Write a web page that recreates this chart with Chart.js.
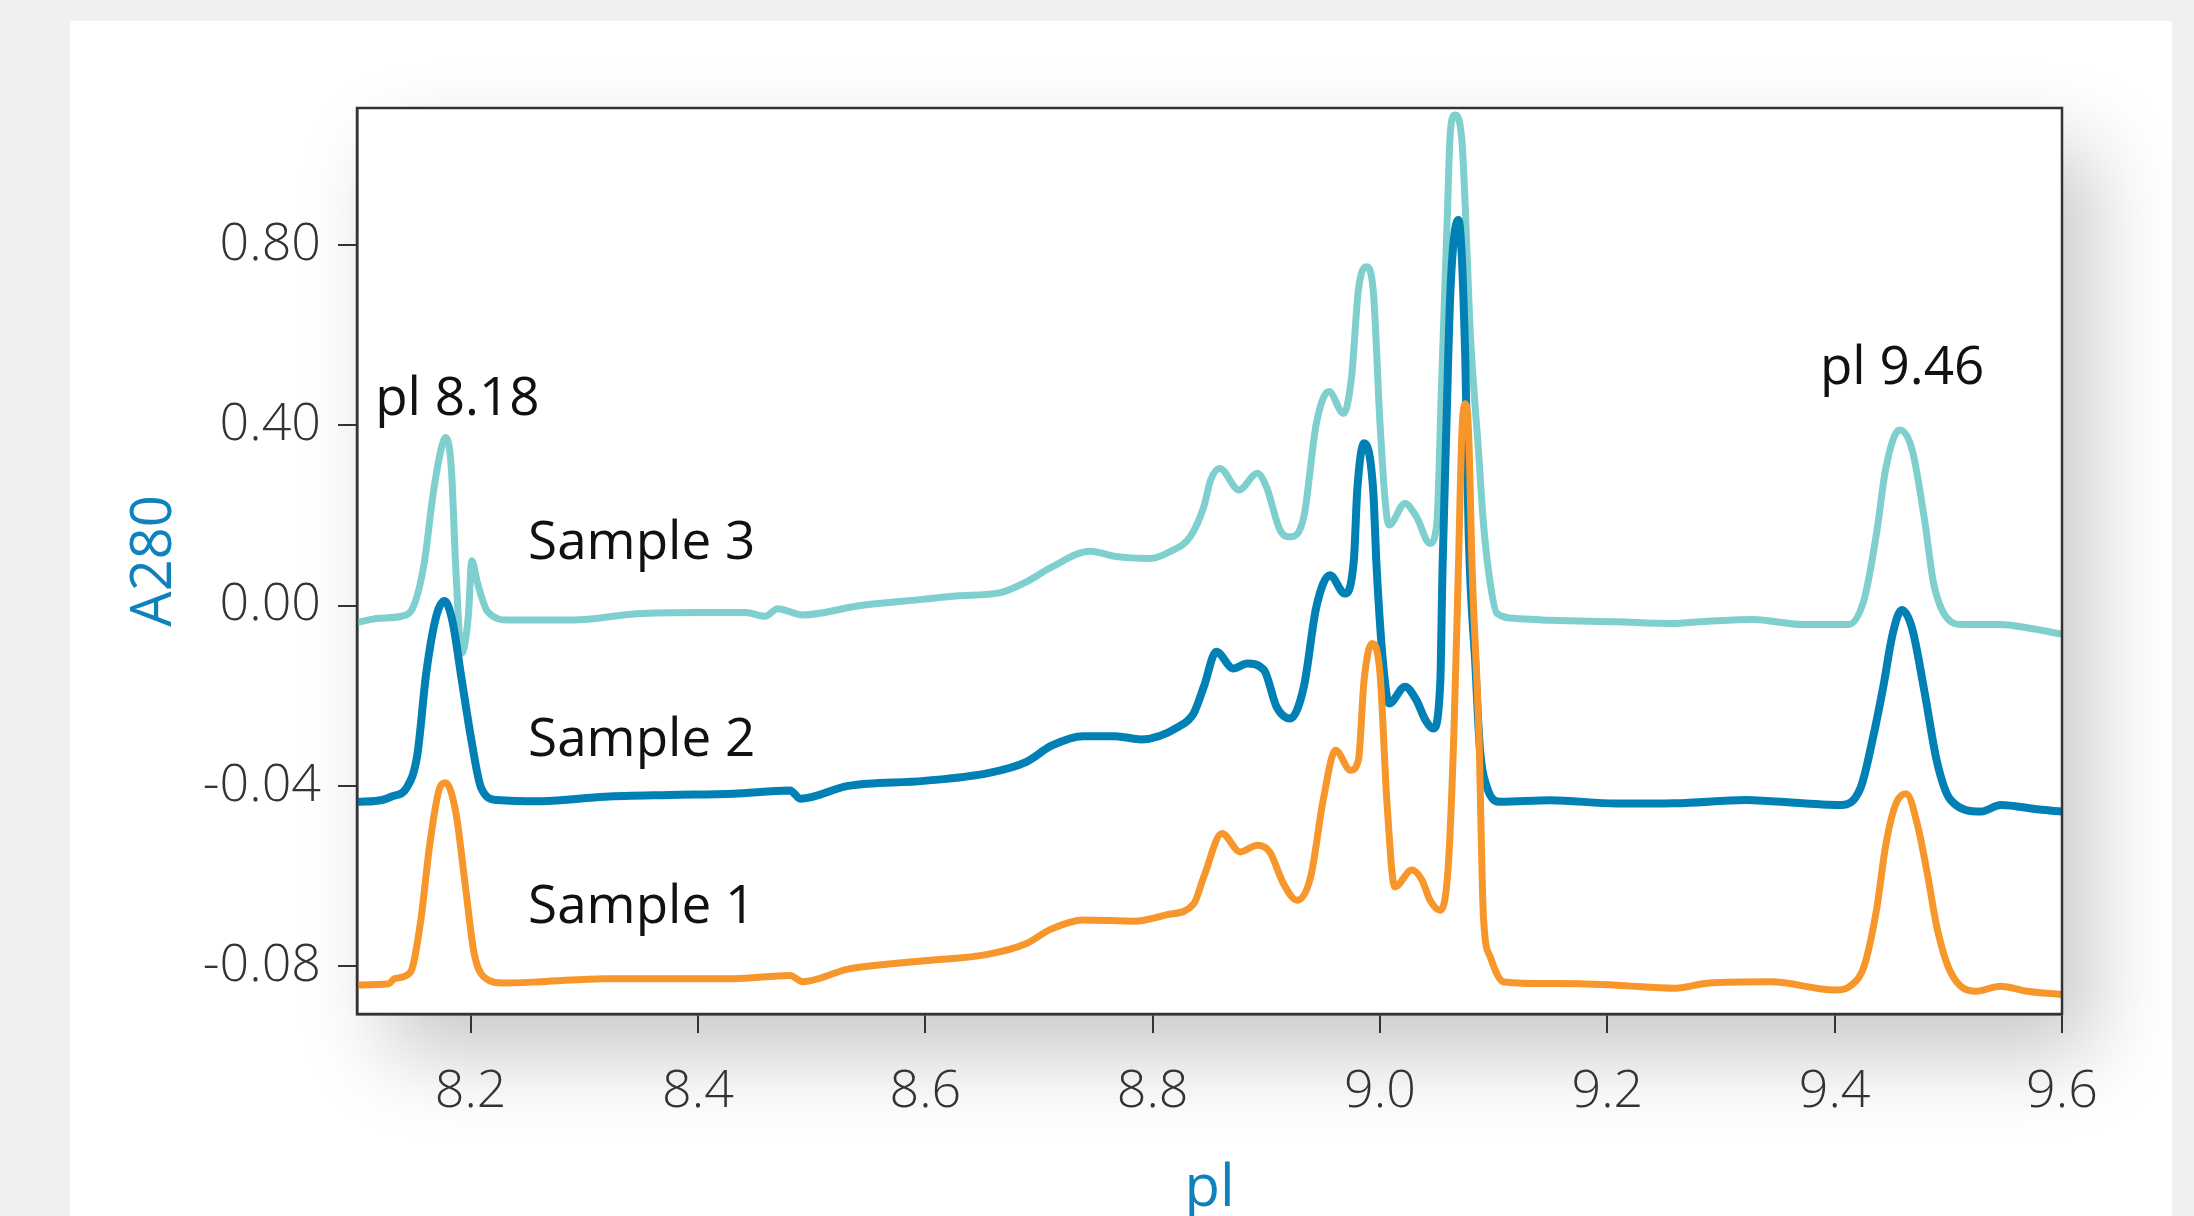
<!DOCTYPE html>
<html>
<head>
<meta charset="utf-8">
<script src="https://cdn.jsdelivr.net/npm/chart.js@4.4.1/dist/chart.umd.min.js"></script>
<style>
  html, body { margin: 0; padding: 0; background: #eff0f2; }
  #card { position: absolute; left: 70px; top: 21px; width: 2102px; height: 1195px; background: #fff; }
  #wrap { position: absolute; left: 0; top: 0; width: 2194px; height: 1216px; }
</style>
</head>
<body>
<div id="card"></div>
<div id="wrap"><canvas id="ief"></canvas></div>
<script>
// pI axis ticks
const xTicks = [8.2, 8.4, 8.6, 8.8, 9.0, 9.2, 9.4, 9.6];
// the A280 axis is drawn with evenly spaced (non-linear) labels, one unit per label
const yTickPos = [0, 1, 2, 3, 4];
const yTickLabels = ['-0.08', '-0.04', '0.00', '0.40', '0.80'];

// traces: [pI, position on the A280 axis]
const sample1 = [
  [8.100,-0.104],[8.128,-0.097],[8.133,-0.069],[8.147,-0.033],[8.156,0.250],[8.164,0.674],
  [8.173,0.993],[8.178,1.017],[8.187,0.851],[8.195,0.462],[8.203,0.073],[8.212,-0.062],
  [8.229,-0.093],[8.262,-0.086],[8.318,-0.069],[8.375,-0.069],[8.431,-0.069],[8.481,-0.051],
  [8.492,-0.086],[8.532,-0.016],[8.599,0.030],[8.655,0.066],[8.689,0.126],[8.711,0.207],
  [8.739,0.257],[8.784,0.250],[8.812,0.285],[8.836,0.345],[8.845,0.496],[8.861,0.736],
  [8.877,0.634],[8.892,0.671],[8.903,0.634],[8.915,0.459],[8.927,0.366],[8.939,0.496],
  [8.950,0.921],[8.961,1.198],[8.974,1.087],[8.981,1.143],[8.986,1.587],[8.993,1.790],
  [9.000,1.624],[9.006,0.921],[9.013,0.440],[9.028,0.533],[9.037,0.477],[9.044,0.366],
  [9.053,0.311],[9.060,0.551],[9.065,1.291],[9.069,2.215],[9.072,2.950],[9.075,3.120],
  [9.078,2.950],[9.081,2.215],[9.087,1.291],[9.091,0.274],[9.097,0.052],[9.109,-0.087],
  [9.150,-0.096],[9.176,-0.097],[9.208,-0.105],[9.260,-0.122],[9.288,-0.094],[9.344,-0.086],
  [9.400,-0.132],[9.415,-0.104],[9.426,0.002],[9.437,0.320],[9.445,0.674],[9.454,0.904],
  [9.463,0.957],[9.473,0.780],[9.482,0.497],[9.490,0.214],[9.502,-0.033],[9.524,-0.139],
  [9.546,-0.111],[9.569,-0.139],[9.600,-0.157]
];
const sample2 = [
  [8.100,0.911],[8.122,0.922],[8.130,0.940],[8.144,0.993],[8.153,1.170],[8.161,1.630],
  [8.170,1.948],[8.177,2.026],[8.184,1.913],[8.192,1.594],[8.201,1.240],[8.209,0.993],
  [8.223,0.922],[8.262,0.915],[8.318,0.940],[8.375,0.950],[8.431,0.957],[8.481,0.975],
  [8.490,0.929],[8.532,1.000],[8.599,1.028],[8.655,1.071],[8.689,1.134],[8.711,1.223],
  [8.739,1.276],[8.767,1.276],[8.790,1.258],[8.823,1.329],[8.836,1.402],[8.845,1.550],
  [8.856,1.744],[8.871,1.651],[8.883,1.679],[8.898,1.642],[8.909,1.439],[8.921,1.374],
  [8.933,1.550],[8.944,1.993],[8.956,2.169],[8.969,2.067],[8.977,2.252],[8.980,2.641],
  [8.986,2.900],[8.994,2.641],[8.997,2.215],[9.003,1.660],[9.008,1.457],[9.022,1.550],
  [9.032,1.476],[9.040,1.365],[9.047,1.318],[9.053,1.568],[9.055,2.200],[9.058,2.900],
  [9.062,3.751],[9.069,4.139],[9.075,3.381],[9.078,2.400],[9.084,1.660],[9.088,1.198],
  [9.094,0.995],[9.106,0.912],[9.150,0.921],[9.208,0.902],[9.260,0.904],[9.322,0.922],
  [9.344,0.915],[9.406,0.894],[9.423,0.993],[9.434,1.276],[9.443,1.559],[9.451,1.842],
  [9.459,1.976],[9.468,1.877],[9.479,1.523],[9.490,1.134],[9.502,0.922],[9.529,0.858],
  [9.546,0.894],[9.580,0.869],[9.600,0.858]
];
const sample3 = [
  [8.100,1.906],[8.119,1.930],[8.139,1.941],[8.150,2.001],[8.159,2.231],[8.167,2.620],
  [8.174,2.868],[8.178,2.932],[8.183,2.762],[8.187,2.196],[8.192,1.736],[8.198,1.948],
  [8.201,2.249],[8.206,2.125],[8.215,1.966],[8.234,1.920],[8.290,1.920],[8.346,1.955],
  [8.403,1.962],[8.442,1.962],[8.459,1.941],[8.470,1.983],[8.492,1.948],[8.543,2.001],
  [8.599,2.036],[8.627,2.054],[8.666,2.072],[8.689,2.132],[8.711,2.213],[8.745,2.302],
  [8.767,2.273],[8.798,2.262],[8.815,2.299],[8.833,2.382],[8.845,2.549],[8.851,2.697],
  [8.859,2.761],[8.876,2.641],[8.892,2.734],[8.900,2.660],[8.912,2.419],[8.921,2.382],
  [8.933,2.493],[8.944,3.011],[8.955,3.187],[8.968,3.066],[8.975,3.270],[8.981,3.751],
  [8.988,3.880],[8.994,3.751],[9.000,3.011],[9.005,2.549],[9.008,2.447],[9.022,2.567],
  [9.032,2.493],[9.044,2.345],[9.050,2.456],[9.054,3.196],[9.059,4.120],[9.062,4.638],
  [9.066,4.721],[9.072,4.583],[9.075,4.213],[9.079,3.566],[9.087,2.826],[9.091,2.456],
  [9.097,2.123],[9.103,1.956],[9.120,1.929],[9.150,1.919],[9.208,1.910],[9.255,1.901],
  [9.288,1.913],[9.328,1.923],[9.372,1.895],[9.412,1.895],[9.426,2.036],[9.437,2.408],
  [9.445,2.762],[9.457,2.974],[9.468,2.868],[9.479,2.479],[9.487,2.125],[9.499,1.930],
  [9.513,1.895],[9.546,1.895],[9.569,1.877],[9.600,1.842]
];

// text labels inside the plot, anchored in data units
const notes = [
  { text: 'pl 8.18', x: 8.116, y: 3.057 },
  { text: 'Sample 3', x: 8.2505, y: 2.258 },
  { text: 'Sample 2', x: 8.2505, y: 1.165 },
  { text: 'Sample 1', x: 8.2505, y: 0.239 },
  { text: 'pl 9.46', x: 9.387, y: 3.229 }
];

const toPts = arr => arr.map(p => ({ x: p[0], y: p[1] }));
const AXIS_BLUE = '#0f82bd';

const framePlugin = {
  id: 'frame',
  beforeDraw(chart) {
    const { ctx, chartArea: a } = chart;
    ctx.save();
    ctx.shadowColor = 'rgba(0,0,0,0.22)';
    ctx.shadowBlur = 80;
    ctx.shadowOffsetX = 30;
    ctx.shadowOffsetY = 40;
    ctx.fillStyle = '#fff';
    ctx.fillRect(a.left, a.top, a.right - a.left, a.bottom - a.top);
    ctx.restore();
  },
  afterDraw(chart) {
    const { ctx, chartArea: a, scales } = chart;
    ctx.save();
    ctx.strokeStyle = '#333';
    ctx.lineWidth = 2.5;
    ctx.strokeRect(a.left, a.top, a.right - a.left, a.bottom - a.top);

    ctx.fillStyle = '#111';
    ctx.font = '500 53px "Open Sans"';
    ctx.textAlign = 'left';
    ctx.textBaseline = 'alphabetic';
    notes.forEach(n => {
      ctx.fillText(n.text, scales.x.getPixelForValue(n.x), scales.y.getPixelForValue(n.y));
    });

    // axis titles
    ctx.fillStyle = AXIS_BLUE;
    ctx.font = '400 58px "Open Sans"';
    ctx.textAlign = 'center';
    ctx.fillText('pl', (a.left + a.right) / 2, 1206);

    ctx.font = '400 56px "Open Sans"';
    ctx.translate(171, (a.top + a.bottom) / 2);
    ctx.rotate(-Math.PI / 2);
    ctx.fillText('A280', 0, 0);
    ctx.restore();
  }
};

const tickFont = { family: 'Open Sans', weight: '300', size: 52 };

new Chart(document.getElementById('ief'), {
  type: 'line',
  data: {
    datasets: [
      { label: 'Sample 1', data: toPts(sample1), borderColor: '#f7962a', borderWidth: 7 },
      { label: 'Sample 2', data: toPts(sample2), borderColor: '#0080b4', borderWidth: 8 },
      { label: 'Sample 3', data: toPts(sample3), borderColor: '#7ecfcd', borderWidth: 7 }
    ]
  },
  options: {
    responsive: true,
    maintainAspectRatio: false,
    animation: false,
    layout: { padding: { left: 0, top: 108, right: 132, bottom: 0 } },
    elements: {
      point: { radius: 0 },
      line: { cubicInterpolationMode: 'monotone', borderJoinStyle: 'round', borderCapStyle: 'round' }
    },
    plugins: { legend: { display: false }, tooltip: { enabled: false } },
    scales: {
      x: {
        type: 'linear',
        min: 8.1,
        max: 9.6,
        afterFit: s => { s.height = 202; },
        afterBuildTicks: s => { s.ticks = xTicks.map(v => ({ value: v })); },
        grid: { drawOnChartArea: false, tickLength: 19, color: '#333', lineWidth: 2 },
        border: { display: true, color: '#333', width: 2.5 },
        ticks: { font: tickFont, color: '#333', padding: 28, maxRotation: 0, callback: v => v.toFixed(1) }
      },
      y: {
        type: 'linear',
        min: -0.265,
        max: 4.76,
        afterFit: s => { s.width = 357; },
        afterBuildTicks: s => { s.ticks = yTickPos.map(v => ({ value: v })); },
        grid: { drawOnChartArea: false, tickLength: 19, color: '#333', lineWidth: 2 },
        border: { display: true, color: '#333', width: 2.5 },
        ticks: { font: tickFont, color: '#333', padding: 17, callback: v => yTickLabels[yTickPos.indexOf(v)] }
      }
    }
  },
  plugins: [framePlugin]
});
</script>
</body>
</html>
